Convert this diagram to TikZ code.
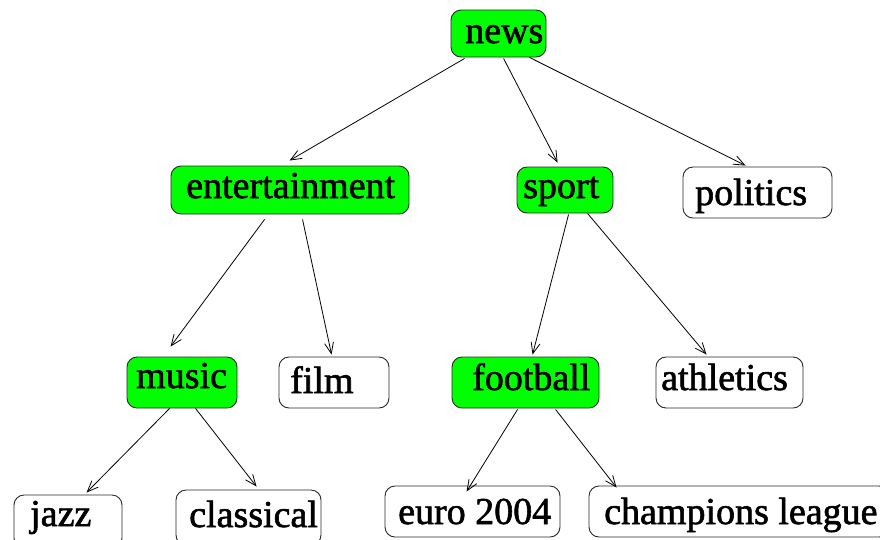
\documentclass[tikz,border=0pt]{standalone}
\usepackage{fontspec}
\setmainfont{Liberation Serif}
\usetikzlibrary{arrows.meta}
\definecolor{boxgreen}{RGB}{0,255,0}
\definecolor{boxline}{RGB}{40,40,40}
\tikzset{
  box/.style={draw=boxline, line width=0.9pt, rounded corners=10pt, inner sep=0pt},
  gbox/.style={box, fill=boxgreen},
  wbox/.style={box, fill=white},
  lbl/.style={anchor=base west, inner sep=0pt, font=\fontsize{38}{40}\selectfont\addfontfeature{FakeBold=1.6}},
  edge/.style={draw=black, line width=0.8pt, -{Straight Barb[length=11pt,width=9pt,line width=0.8pt]}}
}
\begin{document}
\begin{tikzpicture}[x=1pt,y=-1pt]
\useasboundingbox (0,0) rectangle (880,539);
\clip (0,0) rectangle (880,539);
% boxes
\node[gbox, minimum width=95, minimum height=47] (news) at (498.5,33.5) {};
\node[gbox, minimum width=238, minimum height=48] (ent) at (290,190) {};
\node[gbox, minimum width=96, minimum height=46] (sport) at (565,190) {};
\node[wbox, minimum width=149, minimum height=51] (politics) at (757.5,192.5) {};
\node[gbox, minimum width=110, minimum height=51] (music) at (182,382.5) {};
\node[wbox, minimum width=110, minimum height=51] (film) at (334,382.5) {};
\node[gbox, minimum width=147, minimum height=51] (football) at (525.5,382.5) {};
\node[wbox, minimum width=147, minimum height=51] (athletics) at (729.5,382.5) {};
\node[wbox, minimum width=108, minimum height=53] (jazz) at (68,521.5) {};
\node[wbox, minimum width=145, minimum height=55] (classical) at (248.5,517.5) {};
\node[wbox, minimum width=175, minimum height=51] (euro) at (472.5,511.5) {};
\node[wbox, minimum width=300, minimum height=51] (champ) at (739,511.5) {};
% labels
\node[lbl] (news-t) at (465,43) {news};
\node[lbl] (ent-t) at (186,198) {entertainment};
\node[lbl] (sport-t) at (523,198) {sport};
\node[lbl] (politics-t) at (695,205) {politics};
\node[lbl] (music-t) at (136,388) {music};
\node[lbl] (film-t) at (290,393) {film};
\node[lbl] (football-t) at (472,390) {football};
\node[lbl] (athletics-t) at (661,390) {athletics};
\node[lbl] (jazz-t) at (30,526) {jazz};
\node[lbl] (classical-t) at (189,527) {classical};
\node[lbl] (euro-t) at (398,524) {euro 2004};
\node[lbl] (champ-t) at (604,524) {champions league};
% edges
\draw[edge] ([xshift=14pt,yshift=-1pt]news.south west) -- ([xshift=119pt,yshift=5pt]ent.north west);
\draw[edge] ([xshift=53pt,yshift=-1pt]news.south west) -- ([xshift=41pt,yshift=4pt]sport.north west);
\draw[edge] ([xshift=79pt]news.south west) -- ([xshift=63pt,yshift=1pt]politics.north west);
\draw[edge] ([xshift=94pt,yshift=-5pt]ent.south west) -- ([xshift=44pt,yshift=10pt]music.north west);
\draw[edge] ([xshift=132pt,yshift=-5pt]ent.south west) -- ([xshift=53pt,yshift=2pt]film.north west);
\draw[edge] ([xshift=52pt,yshift=-1pt]sport.south west) -- ([xshift=81pt,yshift=2pt]football.north west);
\draw[edge] ([xshift=71pt]sport.south west) -- ([xshift=51pt,yshift=2pt]athletics.north west);
\draw[edge] ([xshift=43pt]music.south west) -- ([xshift=73pt,yshift=2pt]jazz.north west);
\draw[edge] ([xshift=69pt]music.south west) -- ([xshift=81pt,yshift=3pt]classical.north west);
\draw[edge] ([xshift=66pt,yshift=-1pt]football.south west) -- ([xshift=82pt,yshift=-6pt]euro.north west);
\draw[edge] ([xshift=104pt,yshift=-1pt]football.south west) -- ([xshift=28pt,yshift=-2pt]champ.north west);
\end{tikzpicture}
\end{document}
